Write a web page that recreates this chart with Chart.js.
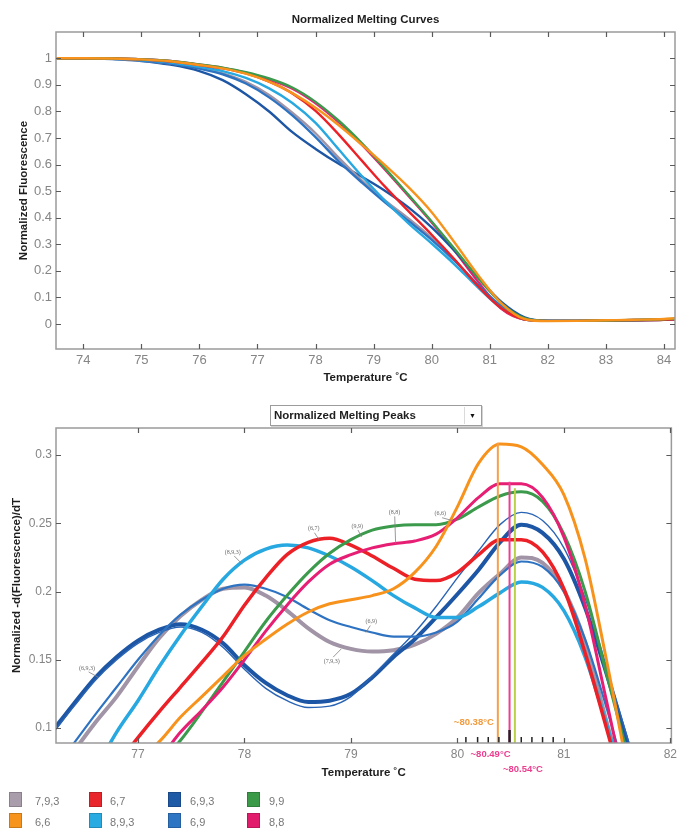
<!DOCTYPE html>
<html>
<head>
<meta charset="utf-8">
<script src="https://cdn.jsdelivr.net/npm/chart.js@4.4.1/dist/chart.umd.min.js"></script>
<style>
html,body{margin:0;padding:0;background:#fff;}
body{position:relative;width:677px;height:828px;overflow:hidden;font-family:"Liberation Sans",Arial,sans-serif;}
#w1{position:absolute;left:0;top:0;width:677px;height:395px;}
#w2{position:absolute;left:0;top:400px;width:681px;height:385px;}
#dd{position:absolute;left:270px;top:405px;width:212px;height:21px;box-sizing:border-box;border:1px solid #9c9c9c;background:#fff;box-shadow:1px 1px 0 #d4d4d4;}
#dd .t{position:absolute;left:3px;top:3px;font-weight:bold;font-size:11.5px;color:#1e1e1e;white-space:nowrap;}
#dd .b{position:absolute;right:1px;top:1px;width:15px;height:17px;border-left:1px solid #dadada;font-size:7px;text-align:center;line-height:17px;color:#111;}
#legend{position:absolute;left:0;top:0;width:677px;height:828px;pointer-events:none;}
.sw{position:absolute;width:13px;height:15px;border:1px solid rgba(0,0,0,.18);box-sizing:border-box;}
.lt{position:absolute;font-size:11px;color:#777;font-family:"Liberation Sans Narrow","Liberation Sans",Arial,sans-serif;line-height:12px;white-space:nowrap;}
</style>
</head>
<body>
<div id="w1"><canvas id="c1" width="677" height="395"></canvas></div>
<div id="w2"><canvas id="c2" width="681" height="385"></canvas></div>
<div id="dd"><span class="t">Normalized Melting Peaks</span><span class="b">&#9660;</span></div>
<div id="legend"></div>
<script>
// ---------------- DATA ----------------
const seriesNames = ['7,9,3','6,7','6,9,3','9,9','6,6','8,9,3','6,9','8,8'];

// Normalized melting curves (top chart)
const curveTemps = [73.5,74,74.5,75,75.5,76,76.4,76.8,77.2,77.6,78,78.4,78.8,79.2,79.6,80,80.4,80.8,81.2,81.6,82,82.5,83,83.5,84,84.2];
const fluor793 = [1,1,.998,.992,.981,.963,.943,.911,.862,.795,.718,.625,.54,.464,.397,.324,.24,.146,.062,.017,.012,.012,.013,.014,.016,.018];
const fluor67  = [1,1,.999,.995,.988,.975,.962,.943,.912,.868,.802,.713,.614,.516,.425,.336,.242,.142,.059,.017,.012,.012,.013,.014,.016,.018];
const fluor693 = [1,1,.997,.99,.976,.952,.918,.865,.8,.722,.659,.603,.554,.501,.439,.364,.274,.174,.083,.025,.012,.012,.013,.015,.017,.019];
const fluor99  = [1,1,.999,.996,.99,.977,.965,.948,.924,.89,.836,.765,.68,.585,.486,.386,.281,.173,.078,.022,.012,.012,.013,.015,.018,.02];
const fluor66  = [1,1,.999,.996,.989,.975,.962,.942,.912,.869,.814,.748,.674,.597,.515,.421,.305,.184,.078,.019,.011,.012,.014,.016,.019,.022];
const fluor893 = [1,1,.998,.993,.984,.968,.952,.926,.887,.832,.757,.657,.556,.463,.379,.303,.223,.137,.06,.017,.012,.012,.012,.014,.016,.017];
const fluor69  = [1,1,.998,.992,.98,.961,.94,.905,.853,.785,.703,.612,.532,.457,.388,.317,.237,.147,.067,.019,.012,.012,.013,.014,.016,.017];
const fluor88  = [1,1,.999,.996,.99,.976,.964,.946,.92,.886,.831,.759,.674,.58,.482,.382,.274,.159,.057,.017,.012,.012,.013,.015,.017,.019];

// Normalized melting peaks (bottom chart)
const peakTemps = [76.2,76.4,76.6,76.8,77,77.2,77.4,77.6,77.8,78,78.2,78.4,78.6,78.8,79,79.2,79.4,79.6,79.8,80,80.2,80.4,80.6,80.8,81,81.2,81.4,81.6,81.8];
const deriv793  = [.06,.083,.104,.123,.145,.166,.182,.194,.202,.203,.197,.186,.173,.163,.158,.156,.157,.161,.169,.181,.199,.213,.225,.221,.201,.163,.105,.05,0];
const deriv67   = [.02,.035,.053,.073,.093,.112,.13,.148,.167,.19,.21,.227,.236,.239,.234,.226,.217,.209,.208,.214,.227,.238,.238,.229,.202,.155,.1,.045,0];
const deriv693  = [.098,.118,.137,.152,.164,.172,.176,.172,.162,.146,.133,.124,.119,.12,.125,.137,.152,.165,.181,.198,.216,.236,.249,.243,.224,.188,.14,.089,.04];
const deriv693b = [.096,.116,.135,.15,.162,.17,.174,.17,.159,.143,.129,.12,.115,.116,.123,.138,.154,.17,.189,.21,.23,.249,.258,.252,.232,.195,.145,.092,.04];
const deriv99   = [0,.01,.027,.045,.06,.073,.091,.112,.134,.156,.178,.197,.214,.228,.238,.245,.248,.249,.249,.253,.262,.27,.273,.266,.242,.2,.14,.08,.02];
const deriv66   = [.02,.035,.05,.063,.077,.09,.108,.123,.138,.153,.165,.176,.185,.191,.194,.197,.202,.214,.233,.262,.294,.308,.306,.293,.271,.224,.15,.07,0];
const deriv893  = [.02,.045,.07,.097,.12,.145,.168,.189,.209,.223,.231,.234,.232,.226,.218,.208,.197,.188,.181,.181,.189,.199,.207,.203,.186,.152,.103,.05,0];
const deriv69   = [.068,.089,.11,.13,.15,.168,.183,.194,.202,.205,.202,.196,.187,.179,.174,.17,.167,.167,.17,.178,.195,.212,.222,.218,.2,.165,.115,.06,.01];
const deriv88   = [0,.015,.03,.045,.06,.077,.097,.113,.13,.15,.171,.19,.207,.22,.227,.232,.235,.237,.242,.254,.269,.279,.279,.269,.24,.19,.12,.05,0];

// Called peaks
const peakCallTemps   = [80.38, 80.49, 80.54];
const peakCallHeights = [0.309, 0.2805, 0.2756];
const peakCallLabels  = ['~80.38°C','~80.49°C','~80.54°C'];
const markerTemps = [80.08,80.19,80.29,80.39,80.49,80.6,80.7,80.8,80.9];

// Curve annotations
const noteLabels = ['(6,9,3)','(8,9,3)','(6,7)','(9,9)','(8,8)','(6,6)','(6,9)','(7,9,3)'];
const noteTextT  = [76.52, 77.89, 78.65, 79.06, 79.41, 79.84, 79.19, 78.82];
const noteTextV  = [0.144, 0.229, 0.246, 0.248, 0.258, 0.257, 0.178, 0.149];
const noteTipT   = [76.63, 77.98, 78.70, 79.10, 79.42, 79.95, 79.14, 78.91];
const noteTipV   = [0.137, 0.220, 0.238, 0.240, 0.235, 0.252, 0.170, 0.158];

// ---------------- STYLE ----------------
const lineColors = ['#a094a6','#ec2127','#1d56a4','#3b9a4b','#f7931d','#27a8e0','#2e73c2','#e61f74'];
const swatchColors = ['#a99cab','#e8262c','#1f5aa6','#3a9a48','#f7941d','#29abe2','#2e75c4','#e31b6d'];
const peakCallColors = ['#f5a04a','#ee3d94','#b9d048'];
const peakLabelColors = ['#f39a3c','#ec3d8f','#ec3d8f'];
const tickFontColor = '#858585';
const FONT = '"Liberation Sans", Arial, sans-serif';
const fmtTick = v => String(+(+v).toFixed(2));

const fluor = [fluor793, fluor67, fluor693, fluor99, fluor66, fluor893, fluor69, fluor88];
const deriv = [deriv793, deriv67, deriv693, deriv99, deriv66, deriv893, deriv69, deriv88];

// frame + inward ticks (MATLAB-like box)
const framePlugin = {
  id: 'frame',
  afterDraw(chart) {
    const {ctx, chartArea: a, scales: {x, y}} = chart;
    ctx.save();
    ctx.strokeStyle = '#9a9a9a';
    ctx.lineWidth = 1.5;
    ctx.strokeRect(a.left, a.top, a.right - a.left, a.bottom - a.top);
    ctx.strokeStyle = '#5a5a5a';
    ctx.lineWidth = 1.2;
    const L = 5;
    ctx.beginPath();
    x.ticks.forEach(t => {
      const p = Math.round(x.getPixelForValue(t.value)) + 0.5;
      ctx.moveTo(p, a.bottom); ctx.lineTo(p, a.bottom - L);
      ctx.moveTo(p, a.top); ctx.lineTo(p, a.top + L);
    });
    y.ticks.forEach(t => {
      const p = Math.round(y.getPixelForValue(t.value)) + 0.5;
      ctx.moveTo(a.left, p); ctx.lineTo(a.left + L, p);
      ctx.moveTo(a.right, p); ctx.lineTo(a.right - L, p);
    });
    ctx.stroke();
    ctx.restore();
  }
};

const titlePlugin = {
  id: 'chartTitle',
  afterDraw(chart, args, o) {
    if (!o || !o.text) return;
    const {ctx, chartArea: a} = chart;
    ctx.save();
    ctx.font = 'bold 11.5px ' + FONT;
    ctx.fillStyle = '#1e1e1e';
    ctx.textAlign = 'center';
    ctx.textBaseline = 'middle';
    ctx.fillText(o.text, (a.left + a.right) / 2, a.top - o.offset);
    ctx.restore();
  }
};

const notesPlugin = {
  id: 'peakNotes',
  afterDatasetsDraw(chart) {
    const {ctx, chartArea: a, scales: {x, y}} = chart;
    ctx.save();
    markerTemps.forEach((t, i) => {
      const p = x.getPixelForValue(t);
      const big = i === 4;
      ctx.strokeStyle = '#222';
      ctx.lineWidth = big ? 2.5 : 1.5;
      ctx.beginPath();
      ctx.moveTo(p, a.bottom);
      ctx.lineTo(p, a.bottom - (big ? 13 : 6));
      ctx.stroke();
    });
    ctx.font = 'bold 9.5px ' + FONT;
    ctx.textBaseline = 'middle';
    const lp = peakCallTemps.map(t => x.getPixelForValue(t));
    ctx.fillStyle = peakLabelColors[0]; ctx.textAlign = 'right';
    ctx.fillText(peakCallLabels[0], lp[0] - 4, a.bottom - 21);
    ctx.fillStyle = peakLabelColors[1]; ctx.textAlign = 'center';
    ctx.fillText(peakCallLabels[1], lp[1] - 19, a.bottom + 11);
    ctx.fillStyle = peakLabelColors[2]; ctx.textAlign = 'center';
    ctx.fillText(peakCallLabels[2], lp[2] + 8, a.bottom + 26);
    ctx.font = '6px "Liberation Serif", serif';
    ctx.fillStyle = '#6a6a6a';
    ctx.strokeStyle = '#808080';
    ctx.lineWidth = 0.8;
    ctx.textAlign = 'center';
    noteLabels.forEach((s, i) => {
      const tx = x.getPixelForValue(noteTextT[i]), ty = y.getPixelForValue(noteTextV[i]);
      const px = x.getPixelForValue(noteTipT[i]), py = y.getPixelForValue(noteTipV[i]);
      ctx.fillText(s, tx, ty);
      const dy = py > ty ? 4 : -4;
      ctx.beginPath();
      ctx.moveTo(tx + (px - tx) * 0.15, ty + dy);
      ctx.lineTo(px, py);
      ctx.stroke();
    });
    ctx.restore();
  }
};

function mkScaleX(min, max, tickSize, titlePad, h) {
  return {
    type: 'linear', min: min, max: max,
    grid: {display: false, drawTicks: false}, border: {display: false},
    ticks: {stepSize: 1, includeBounds: false, color: tickFontColor, font: {family: FONT, size: tickSize}, padding: 4, maxRotation: 0, callback: fmtTick},
    title: {display: true, text: 'Temperature ˚C', color: '#1e1e1e', font: {family: FONT, size: 11.5, weight: 'bold'}, padding: {top: 0, bottom: titlePad}},
    afterFit: s => { s.height = h; }
  };
}
function mkScaleY(min, max, step, tickSize, text, titlePad) {
  return {
    type: 'linear', min: min, max: max,
    grid: {display: false, drawTicks: false}, border: {display: false},
    ticks: {stepSize: step, includeBounds: false, color: tickFontColor, font: {family: FONT, size: tickSize}, padding: 4, callback: fmtTick},
    title: {display: true, text: text, color: '#1e1e1e', font: {family: FONT, size: 11.5, weight: 'bold'}, padding: {top: titlePad, bottom: 0}},
    afterFit: s => { s.width = 56; }
  };
}

// ---------------- TOP CHART ----------------
const topOrder = [4, 3, 1, 5, 6, 0, 2, 7];
new Chart(document.getElementById('c1'), {
  type: 'line',
  data: {
    datasets: topOrder.map(i => ({
      label: seriesNames[i],
      data: curveTemps.map((t, k) => ({x: t, y: fluor[i][k]})),
      borderColor: lineColors[i],
      borderWidth: 2.4,
      pointRadius: 0,
      cubicInterpolationMode: 'monotone',
      fill: false
    }))
  },
  options: {
    responsive: false, animation: false, devicePixelRatio: 1,
    layout: {padding: {top: 32, right: 2, left: 0, bottom: 0}},
    plugins: {legend: {display: false}, tooltip: {enabled: false}, chartTitle: {text: 'Normalized Melting Curves', offset: 12}},
    scales: {
      x: mkScaleX(73.53, 84.19, 13, 10, 46),
      y: mkScaleY(-0.094, 1.099, 0.1, 13, 'Normalized Fluorescence', 17)
    }
  },
  plugins: [framePlugin, titlePlugin]
});

// ---------------- BOTTOM CHART ----------------
const botOrder = [4, 7, 3, 1, 5, 6, 2, 0];
const botWidths = [4, 3.5, 4, 3, 3, 3.5, 2.2, 3];
const callSets = peakCallTemps.map((t, i) => ({
  label: 'peak ' + peakCallLabels[i],
  data: [{x: t, y: 0.085}, {x: t, y: peakCallHeights[i]}],
  borderColor: peakCallColors[i], borderWidth: 2, pointRadius: 0, fill: false
}));
const curveSets = [];
botOrder.forEach(i => {
  curveSets.push({
    label: seriesNames[i],
    data: peakTemps.map((t, k) => ({x: t, y: deriv[i][k]})),
    borderColor: lineColors[i], borderWidth: botWidths[i],
    pointRadius: 0, cubicInterpolationMode: 'monotone', fill: false
  });
  if (i === 6) {
    curveSets.push({
      label: seriesNames[2] + ' rep',
      data: peakTemps.map((t, k) => ({x: t, y: deriv693b[k]})),
      borderColor: '#2a64b5', borderWidth: 1.4,
      pointRadius: 0, cubicInterpolationMode: 'monotone', fill: false
    });
  }
});
new Chart(document.getElementById('c2'), {
  type: 'line',
  data: {datasets: callSets.concat(curveSets)},
  options: {
    responsive: false, animation: false, devicePixelRatio: 1,
    layout: {padding: {top: 28, right: 8, left: 0, bottom: 0}},
    plugins: {legend: {display: false}, tooltip: {enabled: false}},
    scales: {
      x: mkScaleX(76.23, 82.01, 12, 5, 42),
      y: mkScaleY(0.089, 0.3198, 0.05, 12, 'Normalized -d(Fluorescence)/dT', 10)
    }
  },
  plugins: [notesPlugin, framePlugin]
});

// ---------------- LEGEND ----------------
const legendColX = [9, 89, 168, 247];
const legendTextX = [35, 110, 190, 269];
const legendRowY = [792, 813];
const lg = document.getElementById('legend');
seriesNames.forEach((name, i) => {
  const r = Math.floor(i / 4), c = i % 4;
  const sw = document.createElement('div');
  sw.className = 'sw';
  sw.style.left = legendColX[c] + 'px';
  sw.style.top = legendRowY[r] + 'px';
  sw.style.background = swatchColors[i];
  lg.appendChild(sw);
  const tx = document.createElement('div');
  tx.className = 'lt';
  tx.style.left = legendTextX[c] + 'px';
  tx.style.top = (legendRowY[r] + 3) + 'px';
  tx.textContent = name;
  lg.appendChild(tx);
});
</script>
</body>
</html>
